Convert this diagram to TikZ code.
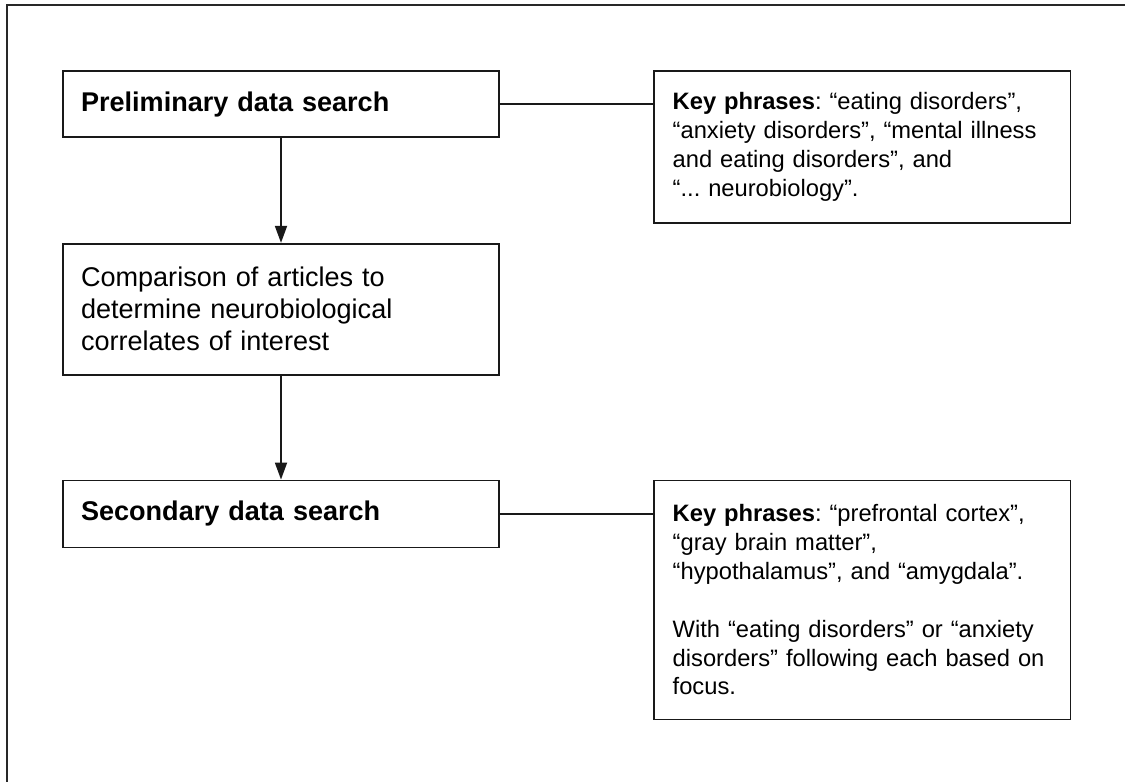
\documentclass[tikz,border=0pt]{standalone}
\usepackage{fontspec}
\setmainfont{Liberation Sans}
\usetikzlibrary{arrows.meta,positioning}
\definecolor{framegray}{RGB}{40,40,40}
\definecolor{linegray}{RGB}{25,25,25}
\frenchspacing

\begin{document}
\begin{tikzpicture}[
        x=0.02cm, y=-0.02cm,
        stage/.style={draw=linegray, line width=1pt, text width=8.0cm, inner xsep=0.36cm, align=left, font=\fontsize{15.4}{18.2}\selectfont},
        keybox/.style={draw=linegray, line width=1pt, text width=7.58cm, inner xsep=0.38cm, align=left, font=\fontsize{13.5}{16.4}\selectfont},
        arr/.style={-{Triangle[length=0.34cm, width=0.24cm]}, line width=1pt, draw=linegray},
        link/.style={line width=1pt, draw=linegray}
      ]
        \useasboundingbox (0,0) rectangle (1125,782);
        \draw[framegray, line width=1.2pt] (1125,5) -- (7,5) -- (7,782);

        \node[stage, minimum height=1.32cm] (prelim) at (281,104) {\textbf{Preliminary data search}};
        \node[stage, minimum height=2.62cm, below=2.1cm of prelim] (compare) {Comparison of articles to\\determine neurobiological\\correlates of interest};
        \node[stage, minimum height=1.34cm, below=2.08cm of compare] (second) {\textbf{Secondary data search}};

        \node[keybox, minimum height=3.04cm, right=3.06cm of prelim.north east, anchor=north west] (keyfirst) {\textbf{Key phrases}: “eating disorders”,\\“anxiety disorders”, “mental illness\\and eating disorders”, and\\“... neurobiology”.};
        \node[keybox, minimum height=4.78cm, right=3.06cm of second.north east, anchor=north west] (keysecond) {\textbf{Key phrases}: “prefrontal cortex”,\\“gray brain matter”,\\“hypothalamus”, and “amygdala”.\\[16.4pt]With “eating disorders” or “anxiety\\disorders” following each based on\\focus.};

        \draw[arr] (prelim) -- (compare);
        \draw[arr] (compare) -- (second);
        \draw[link] (prelim.east) -- (prelim.east -| keyfirst.west);
        \draw[link] (second.east) -- (second.east -| keysecond.west);
      \end{tikzpicture}
\end{document}
